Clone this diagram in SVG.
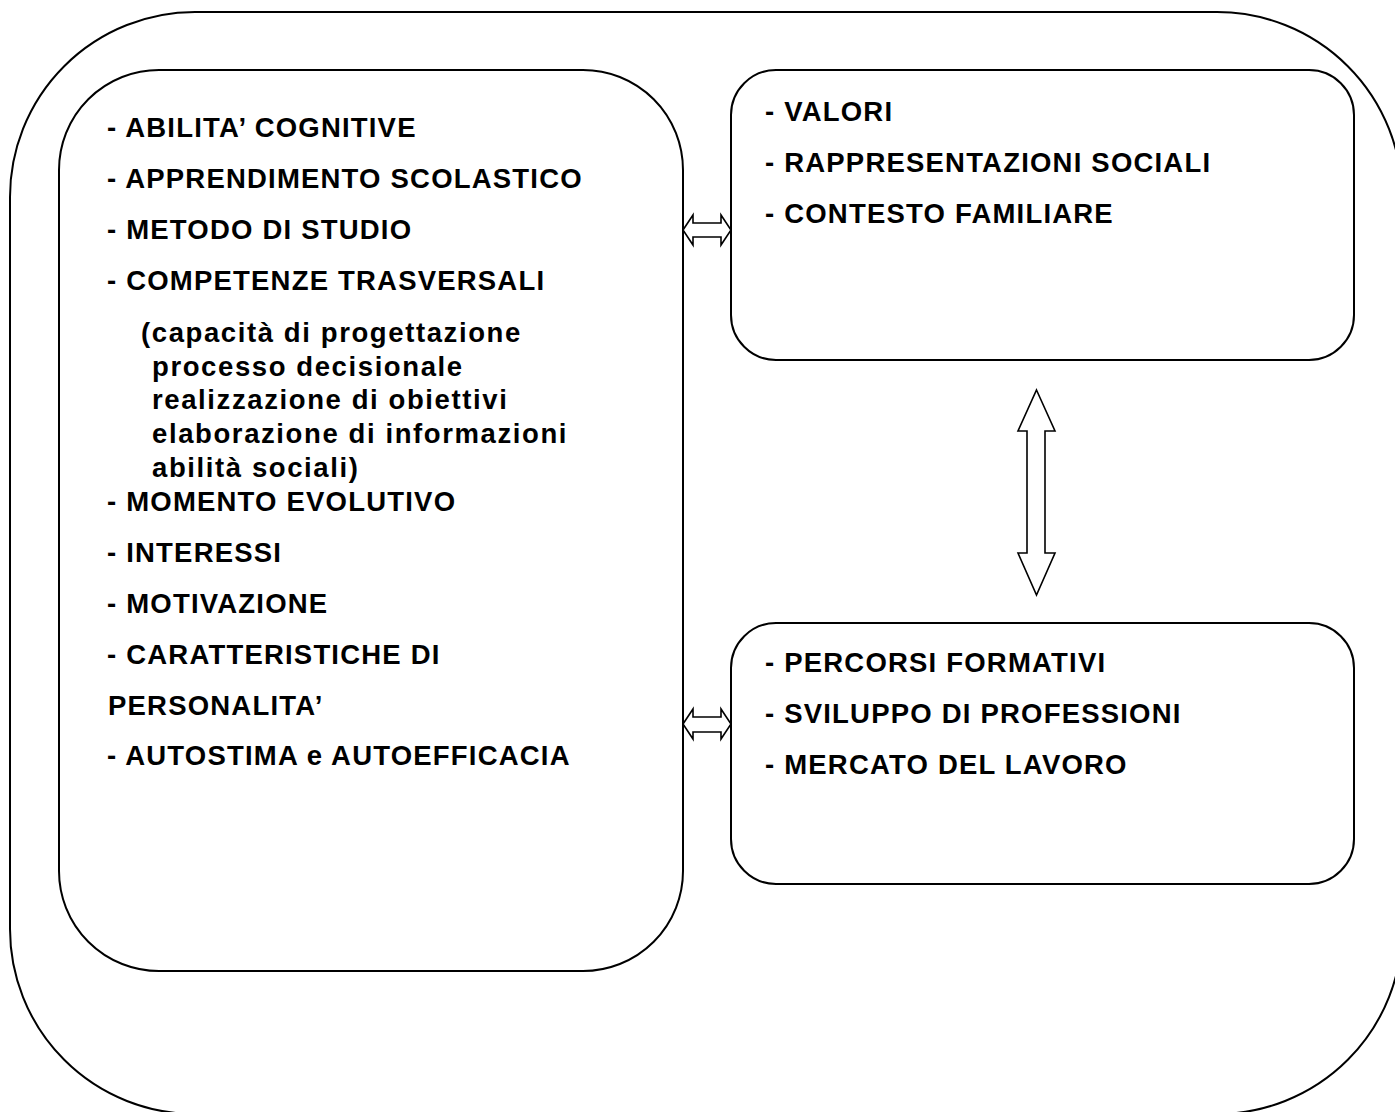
<svg xmlns="http://www.w3.org/2000/svg" width="1395" height="1112" viewBox="0 0 1395 1112">
<style>
.box{fill:#fff;stroke:#000;stroke-width:2}
.arr{fill:#fff;stroke:#000;stroke-width:1.6;stroke-linejoin:miter}
text{font-family:"Liberation Sans",Arial,sans-serif;font-weight:bold;font-size:27.5px;letter-spacing:1.2px;fill:#000}
.p{letter-spacing:1.6px}
</style>
<rect width="1395" height="1112" fill="#fff"/>
<g id="outer">
<rect class="box" x="10" y="12" width="1392" height="1102" rx="185" ry="185"/>
</g>
<g id="node-personal">
<rect class="box" x="59" y="70" width="624" height="901" rx="100" ry="100"/>
<text x="107" y="137">- ABILITA’ COGNITIVE</text>
<text x="107" y="188">- APPRENDIMENTO SCOLASTICO</text>
<text x="107" y="239">- METODO DI STUDIO</text>
<text x="107" y="290">- COMPETENZE TRASVERSALI</text>
<text class="p" x="141" y="342">(capacità di progettazione</text>
<text class="p" x="152" y="376">processo decisionale</text>
<text class="p" x="152" y="409">realizzazione di obiettivi</text>
<text class="p" x="152" y="443">elaborazione di informazioni</text>
<text class="p" x="152" y="477">abilità sociali)</text>
<text x="107" y="511">- MOMENTO EVOLUTIVO</text>
<text x="107" y="562">- INTERESSI</text>
<text x="107" y="613">- MOTIVAZIONE</text>
<text x="107" y="664">- CARATTERISTICHE DI</text>
<text x="108" y="715">PERSONALITA’</text>
<text x="107" y="765">- AUTOSTIMA e AUTOEFFICACIA</text>
</g>
<g id="node-social">
<rect class="box" x="731" y="70" width="623" height="290" rx="45" ry="45"/>
<text x="765" y="121">- VALORI</text>
<text x="765" y="172">- RAPPRESENTAZIONI SOCIALI</text>
<text x="765" y="223">- CONTESTO FAMILIARE</text>
</g>
<g id="node-context">
<rect class="box" x="731" y="623" width="623" height="261" rx="45" ry="45"/>
<text x="765" y="672">- PERCORSI FORMATIVI</text>
<text x="765" y="723">- SVILUPPO DI PROFESSIONI</text>
<text x="765" y="774">- MERCATO DEL LAVORO</text>
</g>
<g id="connectors">
<polygon class="arr" points="683,230 693,215 693,223 721,223 721,215 731,230 721,245 721,237 693,237 693,245"/>
<polygon class="arr" points="683,724 693,709 693,717 721,717 721,709 731,724 721,739 721,732 693,732 693,739"/>
<polygon class="arr" points="1036.5,390 1055,431 1045,431 1045,553 1055,553 1036.5,595 1018,553 1027,553 1027,431 1018,431"/>
</g>
</svg>
